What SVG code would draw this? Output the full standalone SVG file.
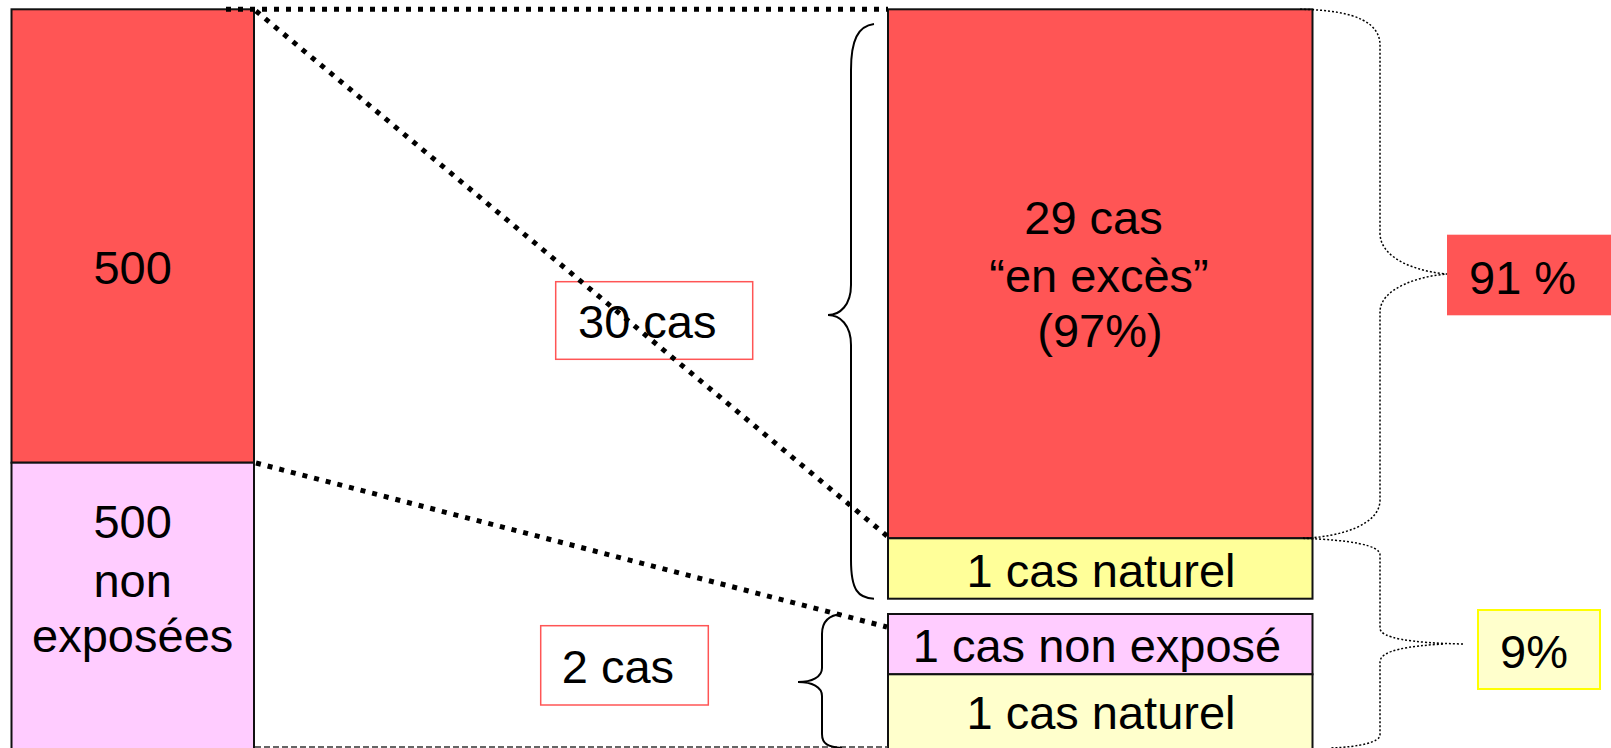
<svg xmlns="http://www.w3.org/2000/svg" width="1611" height="748" viewBox="0 0 1611 748">
<style>
text{font-family:"Liberation Sans",Arial,sans-serif;font-size:47px;fill:#000}
.c{text-anchor:middle}
.box{stroke:#111;stroke-width:2}
.red{fill:#FF5555}
.pink{fill:#FFCCFF}
.yel{fill:#FFFF99}
.lyel{fill:#FFFFCC}
.thick{stroke:#000;stroke-width:5;stroke-dasharray:5 7;fill:none}
.thin{stroke:#000;stroke-width:1.5;stroke-dasharray:2 2;fill:none}
.dash{stroke:#333;stroke-width:1.5;stroke-dasharray:6 3;fill:none}
.brace{stroke:#000;stroke-width:2;fill:none}
</style>
<rect width="1611" height="748" fill="#fff"/>
<g id="left-exposed">
<rect class="box red" x="11.5" y="9.3" width="242.5" height="453.4"/>
<text class="c" x="132.7" y="284">500</text>
</g>
<g id="left-nonexposed">
<rect class="box pink" x="11.5" y="462.7" width="242.5" height="290"/>
<text class="c" x="132.7" y="538">500</text>
<text class="c" x="132.7" y="596.5">non</text>
<text class="c" x="132.7" y="651.7">exposées</text>
</g>
<g id="excess">
<rect class="box red" x="888" y="9.3" width="424.5" height="529"/>
<text class="c" x="1093.5" y="234">29 cas</text>
<text class="c" x="1099" y="291.7">“en excès”</text>
<text class="c" x="1100" y="347">(97%)</text>
</g>
<g id="natural1">
<rect class="box yel" x="888" y="538.3" width="424.5" height="60.4"/>
<text class="c" x="1101" y="587.3">1 cas naturel</text>
</g>
<g id="nonexposed-case">
<rect class="box pink" x="888" y="614" width="424.5" height="60.3"/>
<text class="c" x="1097" y="661.7">1 cas non exposé</text>
</g>
<g id="natural2">
<rect class="box lyel" x="888" y="674.3" width="424.5" height="80"/>
<text class="c" x="1101" y="729">1 cas naturel</text>
</g>
<g id="label-30">
<rect x="555.7" y="281.7" width="197" height="77.6" fill="none" stroke="#FF5555" stroke-width="1.5"/>
<text x="578" y="338">30 cas</text>
</g>
<g id="label-2">
<rect x="540.7" y="625.7" width="167.6" height="79.3" fill="none" stroke="#FF5555" stroke-width="1.5"/>
<text x="561.7" y="683.3">2 cas</text>
</g>
<g id="pct-91">
<rect class="red" x="1447" y="234.7" width="170" height="80.6"/>
<text x="1469" y="294">91 %</text>
</g>
<g id="pct-9">
<rect class="lyel" x="1478" y="610" width="122" height="79" stroke="#FFFF00" stroke-width="2"/>
<text x="1500" y="668">9%</text>
</g>
<g id="connectors">
<line class="thick" x1="226" y1="9.3" x2="888" y2="9.3"/>
<line class="thick" x1="256" y1="11" x2="887" y2="536"/>
<line class="thick" x1="256" y1="463" x2="887" y2="627"/>
<line class="dash" x1="255" y1="747" x2="888" y2="747"/>
<path class="brace" d="M874,24 C858,26 851,40 851,70 L851,285 C851,305 840,315 828,315 C840,315 851,325 851,345 L851,560 C851,590 858,598 874,598.7"/>
<path class="brace" d="M842,614 C828,615 822,622 822,634 L822,668 C822,677 812,682 798,682 C812,682 822,687 822,696 L822,734 C822,744 828,747 842,748"/>
<path class="thin" d="M1300,9.3 C1360,10 1380,25 1380,45 L1380,233 C1380,260 1420,272 1447,274 C1420,276 1380,288 1380,312 L1380,500 C1380,525 1340,537 1303,538.3"/>
<path class="thin" d="M1303,538.3 C1350,540 1380,545 1380,555 L1380,628 C1380,638 1410,643 1463,644 M1443,644 C1410,646 1380,650 1380,662 L1380,735 C1380,742 1360,747 1330,748"/>
</g>
</svg>
